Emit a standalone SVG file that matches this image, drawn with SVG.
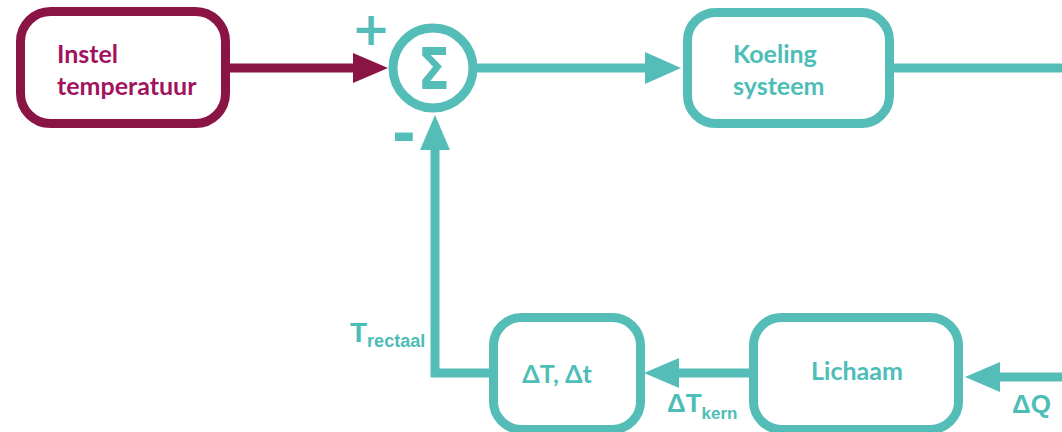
<svg xmlns="http://www.w3.org/2000/svg" width="1062" height="432" viewBox="0 0 1062 432">
<style>
.box{fill:#fff;stroke:#55bdb8;stroke-width:9}
.mbox{fill:#fff;stroke:#8a1545;stroke-width:9}
.ln{fill:none;stroke:#55bdb8;stroke-width:9}
.mln{fill:none;stroke:#8a1545;stroke-width:9}
.ah{fill:#55bdb8}
.mah{fill:#8a1545}
.lbl{font-family:Lato,"Liberation Sans",sans-serif;font-weight:bold;font-size:25px;fill:#4dbdb7}
.mlbl{font-family:Lato,"Liberation Sans",sans-serif;font-weight:bold;font-size:25px;fill:#a2135f}
.al{font-family:"Liberation Sans",Arial,sans-serif;font-weight:bold;fill:#4dbdb7}
.sym{font-family:"DejaVu Sans",sans-serif;fill:#55bdb8}
</style>
<g id="connectors">
<line class="mln" x1="230" y1="68" x2="355" y2="68"/>
<polygon class="mah" points="353,53 388,68 353,83"/>
<line class="ln" x1="477" y1="68" x2="647" y2="68"/>
<polygon class="ah" points="645,52 681,68 645,84"/>
<line class="ln" x1="894" y1="68" x2="1062" y2="68"/>
<line class="ln" x1="1062" y1="377" x2="998" y2="377"/>
<polygon class="ah" points="1000,362 965,377 1000,392"/>
<line class="ln" x1="749" y1="373" x2="677" y2="373"/>
<polygon class="ah" points="679,358 644,373 679,388"/>
<polyline class="ln" points="489,373 435,373 435,148"/>
<polygon class="ah" points="420,150 435,115 450,150"/>
</g>
<g id="instel">
<rect class="mbox" x="20.5" y="11.5" width="205" height="112" rx="30"/>
<text class="mlbl" x="57" y="63">Instel</text>
<text class="mlbl" x="57" y="95">temperatuur</text>
</g>
<g id="sum">
<circle cx="433" cy="68" r="40" fill="#fff" stroke="#55bdb8" stroke-width="9"/>
<text class="sym" transform="translate(434,89) scale(0.82,1)" text-anchor="middle" font-size="57" font-weight="bold">Σ</text>
<text class="sym" x="371" y="45" text-anchor="middle" font-weight="bold" font-size="46">+</text>
<text x="404" y="155" text-anchor="middle" font-family="'Liberation Sans',Arial,sans-serif" font-weight="bold" font-size="70" fill="#55bdb8">-</text>
</g>
<g id="koeling">
<rect class="box" x="687.5" y="12.5" width="202" height="111" rx="28"/>
<text class="lbl" x="733" y="63">Koeling</text>
<text class="lbl" x="733" y="95">systeem</text>
</g>
<g id="dtdt">
<rect class="box" x="493.5" y="317.5" width="147" height="112" rx="28"/>
<text class="lbl" x="557" y="383" text-anchor="middle">ΔT, Δt</text>
</g>
<g id="lichaam">
<rect class="box" x="753.5" y="317.5" width="205" height="112" rx="28"/>
<text class="lbl" x="857" y="380" text-anchor="middle">Lichaam</text>
</g>
<g id="labels">
<text class="al" x="350" y="342" font-size="28">T<tspan font-size="18" dy="5">rectaal</tspan></text>
<text class="al" x="667" y="412" font-size="26">ΔT<tspan font-size="17" dy="7">kern</tspan></text>
<text class="al" x="1012" y="413" font-size="26">ΔQ</text>
</g>
</svg>
